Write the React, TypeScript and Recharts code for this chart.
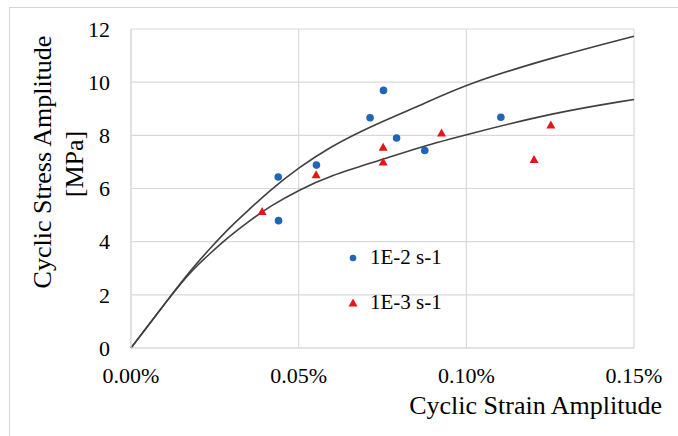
import { ComposedChart, Line, Scatter, XAxis, YAxis, CartesianGrid, Legend } from 'recharts';

// strain in %, stress in MPa
const strainTicks = [0, 0.05, 0.1, 0.15];
const stressTicks = [0, 2, 4, 6, 8, 10, 12];

const fastStrain = [0.0439, 0.044, 0.0553, 0.0713, 0.0753, 0.0792, 0.0876, 0.1103];
const fastStress = [6.43, 4.79, 6.88, 8.66, 9.69, 7.9, 7.43, 8.68];

const slowStrain = [0.0391, 0.0552, 0.0752, 0.0752, 0.0926, 0.1202, 0.1252];
const slowStress = [5.12, 6.5, 7.53, 6.98, 8.07, 7.07, 8.37];

// fitted curves
const upperStrain = [0, 0.0116, 0.0176, 0.0235, 0.0295, 0.0355, 0.0414, 0.0502, 0.0593, 0.0713, 0.0862, 0.1001, 0.1259, 0.15];
const upperStress = [0, 1.92, 2.9, 3.74, 4.55, 5.24, 5.93, 6.8, 7.56, 8.33, 9.12, 9.94, 10.94, 11.73];
const lowerStrain = [0, 0.0116, 0.0176, 0.0235, 0.0295, 0.0355, 0.0414, 0.0502, 0.0593, 0.0742, 0.0862, 0.1001, 0.1259, 0.15];
const lowerStress = [0, 1.92, 2.85, 3.55, 4.22, 4.8, 5.33, 5.95, 6.48, 7.06, 7.56, 8.03, 8.85, 9.35];

const seriesNames = ['1E-2 s-1', '1E-3 s-1'];

const BLUE = '#1F66B8';
const RED = '#E8141B';
const FONT = '"Liberation Serif", "Times New Roman", serif';

const fastData = fastStrain.map((x, i) => ({ x, y: fastStress[i] }));
const slowData = slowStrain.map((x, i) => ({ x, y: slowStress[i] }));
const upperData = upperStrain.map((x, i) => ({ x, y: upperStress[i] }));
const lowerData = lowerStrain.map((x, i) => ({ x, y: lowerStress[i] }));

const Dot = (props: any) => <circle cx={props.cx} cy={props.cy} r={3.8} fill={BLUE} />;

const Tri = (props: any) => {
  const { cx, cy } = props;
  return <polygon points={`${cx},${cy - 5} ${cx + 4.5},${cy + 3} ${cx - 4.5},${cy + 3}`} fill={RED} />;
};

const LegendBox = () => (
  <div style={{ fontFamily: FONT, fontSize: 21, color: '#000', lineHeight: '45px' }}>
    {seriesNames.map((name, i) => (
      <div key={name} style={{ display: 'flex', alignItems: 'center' }}>
        <svg width={16} height={12} style={{ marginRight: 9 }}>
          {i === 0 ? <circle cx={8} cy={6} r={3.3} fill={BLUE} /> : <polygon points="8,1.5 12.5,9.5 3.5,9.5" fill={RED} />}
        </svg>
        <span>{name}</span>
      </div>
    ))}
  </div>
);

const App = () => {
  return (
    <div style={{ position: 'absolute', left: 0, top: 0, width: 678, height: 436, background: '#fff' }}>
      <div style={{ position: 'absolute', left: 9, top: 7, right: 0, bottom: 0, borderTop: '1px solid #d6d6d6', borderLeft: '1px solid #d6d6d6' }} />
      <ComposedChart width={678} height={436} margin={{ top: 29, right: 44, bottom: 0, left: 0 }}>
        <CartesianGrid stroke="#d9d9d9" strokeWidth={1.2} />
        <XAxis
          type="number"
          dataKey="x"
          domain={[0, 0.15]}
          ticks={strainTicks}
          tickFormatter={(v: number) => `${v.toFixed(2)}%`}
          height={88}
          axisLine={{ stroke: '#d9d9d9' }}
          tickLine={false}
          tickSize={0}
          tickMargin={19}
          tick={{ fontFamily: FONT, fontSize: 22, fill: '#000' }}
          allowDuplicatedCategory={false}
        />
        <YAxis
          type="number"
          dataKey="y"
          domain={[0, 12]}
          ticks={stressTicks}
          width={131}
          axisLine={{ stroke: '#d9d9d9' }}
          tickLine={false}
          tickSize={0}
          tickMargin={21}
          tick={{ fontFamily: FONT, fontSize: 22, fill: '#000' }}
        />
        <Line data={upperData} dataKey="y" type="basis" stroke="#404040" strokeWidth={1.6} dot={false} isAnimationActive={false} />
        <Line data={lowerData} dataKey="y" type="basis" stroke="#404040" strokeWidth={1.6} dot={false} isAnimationActive={false} />
        <Scatter data={fastData} dataKey="y" shape={Dot} isAnimationActive={false} />
        <Scatter data={slowData} dataKey="y" shape={Tri} isAnimationActive={false} />
        <Legend
          layout="vertical"
          align="center"
          verticalAlign="middle"
          content={<LegendBox />}
          wrapperStyle={{ left: 345, top: 235, width: 130 }}
        />
      </ComposedChart>
      <div style={{ position: 'absolute', left: 43, top: 162, transform: 'translate(-50%, -50%) rotate(-90deg)', whiteSpace: 'nowrap', fontFamily: FONT, fontSize: 26, lineHeight: 1 }}>
        Cyclic Stress Amplitude
      </div>
      <div style={{ position: 'absolute', left: 75, top: 164, transform: 'translate(-50%, -50%) rotate(-90deg)', whiteSpace: 'nowrap', fontFamily: FONT, fontSize: 26, lineHeight: 1 }}>
        [MPa]
      </div>
      <div style={{ position: 'absolute', right: 16, top: 393, whiteSpace: 'nowrap', fontFamily: FONT, fontSize: 26, lineHeight: 1 }}>
        Cyclic Strain Amplitude
      </div>
    </div>
  );
};

export default App;
